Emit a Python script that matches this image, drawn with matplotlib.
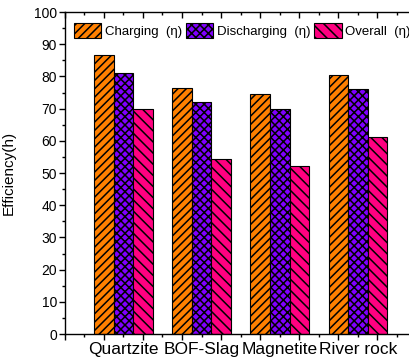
import matplotlib
matplotlib.use("Agg")
import matplotlib.pyplot as plt
import numpy as np
from matplotlib.ticker import MultipleLocator

categories = ["Quartzite", "BOF-Slag", "Magnetite", "River rock"]
series_names = ["Charging  (η)", "Discharging  (η)", "Overall  (η)"]
charging = [86.5, 76.5, 74.5, 80.5]
discharging = [81.0, 72.0, 70.0, 76.0]
overall = [70.0, 54.2, 52.3, 61.3]
yticks = list(range(0, 101, 10))

colors = ["#FF8000", "#8000FF", "#FF0080"]
hatches = ["////", "xxxx", "\\\\\\"]

plt.rcParams['font.family'] = ['Liberation Sans', 'DejaVu Sans']
plt.rcParams['hatch.linewidth'] = 1.1

fig = plt.figure(figsize=(4.10, 3.62), dpi=100)
ax = fig.add_axes([0.158, 0.0773, 0.858, 0.8895])

x = np.arange(1, len(categories) + 1)
w = 0.25
for i, (vals, name) in enumerate(zip([charging, discharging, overall], series_names)):
    ax.bar(x + (i - 1) * w, vals, width=w, color=colors[i], edgecolor="black",
           hatch=hatches[i], linewidth=0.8, label=name)

ax.set_xlim(0.25, 4.75)
ax.set_ylim(0, 100)
ax.set_yticks(yticks)
ax.yaxis.set_minor_locator(MultipleLocator(5))
ax.set_xticks(np.arange(0.25, 4.8, 0.5))
ax.set_xticks(np.arange(0.5, 4.8, 0.5), minor=True)
ax.set_xticklabels([])
for xi, c in zip(x, categories):
    ax.text(xi, -2.5, c, ha="center", va="top", fontsize=12.5,
            transform=ax.transData)

ax.tick_params(axis="y", which="major", direction="out", length=4, width=1, labelsize=10, pad=1.5)
ax.tick_params(axis="y", which="minor", direction="out", length=2, width=1)
ax.tick_params(axis="x", which="major", direction="out", length=4, width=1,
               top=True)
ax.tick_params(axis="x", which="minor", direction="out", length=2, width=1,
               top=True)
# top ticks inward
for t in ax.xaxis.get_major_ticks() + ax.xaxis.get_minor_ticks():
    t.tick2line.set_marker(3)  # TICKDOWN
for sp in ax.spines.values():
    sp.set_linewidth(1.0)
ax.spines["right"].set_visible(False)

ax.set_ylabel("Efficiency(h)", fontsize=11, labelpad=13)

leg = ax.legend(loc="upper left", ncol=3, frameon=False, fontsize=9.5,
                bbox_to_anchor=(-0.005, 1.0), handlelength=2.1, handleheight=1.4,
                handletextpad=0.25, columnspacing=0.3, borderaxespad=0.4)

fig.savefig("out.png", dpi=100)
